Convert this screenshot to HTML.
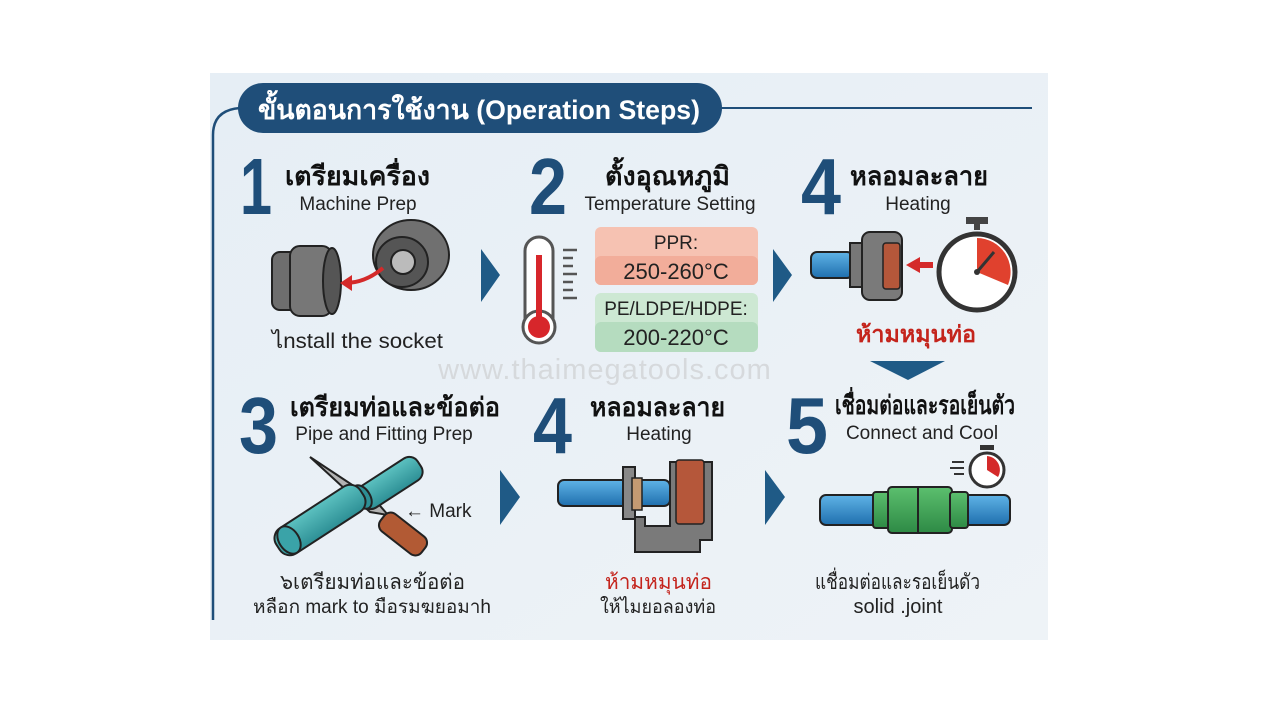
<!DOCTYPE html>
<html><head><meta charset="utf-8"><style>
html,body{margin:0;padding:0;background:#fff;width:1280px;height:720px;overflow:hidden}
svg{display:block}
text{font-family:"Liberation Sans","DejaVu Sans",sans-serif}
.n{font-weight:bold;fill:#1f4e79;font-size:80px}
.t{font-weight:bold;fill:#111;font-size:26px}
.s{fill:#222;font-size:19px}
.b{fill:#222;font-size:21px}
</style></head><body>
<svg width="1280" height="720" viewBox="0 0 1280 720">
<defs>
<linearGradient id="bg" x1="0" y1="0" x2="1" y2="1"><stop offset="0" stop-color="#e6eef5"/><stop offset="1" stop-color="#eef3f7"/></linearGradient>
<linearGradient id="pipe" x1="0" y1="0" x2="0" y2="1"><stop offset="0" stop-color="#5fb3e6"/><stop offset="1" stop-color="#1f6fae"/></linearGradient>
<linearGradient id="grn" x1="0" y1="0" x2="0" y2="1"><stop offset="0" stop-color="#5cbf6e"/><stop offset="1" stop-color="#2e8a45"/></linearGradient>
<linearGradient id="teal" x1="0" y1="0" x2="0" y2="1"><stop offset="0" stop-color="#5cc1c0"/><stop offset="1" stop-color="#2d8f95"/></linearGradient>
</defs>
<rect x="210" y="73" width="838" height="567" fill="url(#bg)"/>
<path d="M213 620 V135 Q213 110 240 108" fill="none" stroke="#1f4e79" stroke-width="2.5"/>
<line x1="715" y1="108" x2="1032" y2="108" stroke="#1f4e79" stroke-width="2"/>
<rect x="238" y="83" width="484" height="50" rx="25" fill="#1f4e79"/>
<text x="258" y="119" fill="#fff" font-size="27" font-weight="bold" textLength="442" lengthAdjust="spacingAndGlyphs">ขั้นตอนการใช้งาน (Operation Steps)</text>

<text class="n" x="240" y="214" textLength="32" lengthAdjust="spacingAndGlyphs">1</text>
<text class="n" x="529" y="214" textLength="38" lengthAdjust="spacingAndGlyphs">2</text>
<text class="n" x="801" y="214" textLength="40" lengthAdjust="spacingAndGlyphs">4</text>
<text class="n" x="239" y="453" textLength="39" lengthAdjust="spacingAndGlyphs">3</text>
<text class="n" x="533" y="453" textLength="39" lengthAdjust="spacingAndGlyphs">4</text>
<text class="n" x="786" y="453" textLength="42" lengthAdjust="spacingAndGlyphs">5</text>

<text class="t" x="285" y="185" textLength="145" lengthAdjust="spacingAndGlyphs">เตรียมเครื่อง</text>
<text class="s" x="358" y="210" text-anchor="middle">Machine Prep</text>
<text class="t" x="605" y="185" textLength="125" lengthAdjust="spacingAndGlyphs">ตั้งอุณหภูมิ</text>
<text class="s" x="670" y="210" text-anchor="middle">Temperature Setting</text>
<text class="t" x="850" y="185" textLength="138" lengthAdjust="spacingAndGlyphs">หลอมละลาย</text>
<text class="s" x="918" y="210" text-anchor="middle">Heating</text>
<text class="t" x="290" y="416" textLength="210" lengthAdjust="spacingAndGlyphs">เตรียมท่อและข้อต่อ</text>
<text class="s" x="384" y="440" text-anchor="middle">Pipe and Fitting Prep</text>
<text class="t" x="590" y="416" textLength="135" lengthAdjust="spacingAndGlyphs">หลอมละลาย</text>
<text class="s" x="659" y="440" text-anchor="middle">Heating</text>
<text class="t" x="835" y="414" font-size="24" textLength="180" lengthAdjust="spacingAndGlyphs">เชื่อมต่อและรอเย็นตัว</text>
<text class="s" x="922" y="439" text-anchor="middle">Connect and Cool</text>

<g stroke="#222" stroke-width="2">
<rect x="272" y="252" width="35" height="58" rx="8" fill="#6e6e6e"/>
<rect x="290" y="246" width="42" height="70" rx="10" fill="#777"/>
<ellipse cx="332" cy="281" rx="9" ry="33" fill="#555"/>
<ellipse cx="411" cy="255" rx="38" ry="35" fill="#707070"/>
<ellipse cx="402" cy="262" rx="26" ry="25" fill="#555"/>
<ellipse cx="403" cy="262" rx="12" ry="12" fill="#bbb"/>
</g>
<path d="M383 268 Q365 283 345 283" fill="none" stroke="#d42a2a" stroke-width="4"/>
<polygon points="340,283 352,275 352,291" fill="#d42a2a"/>
<text class="b" x="272" y="348" textLength="171" lengthAdjust="spacingAndGlyphs">ไnstall the socket</text>

<rect x="525" y="237" width="28" height="100" rx="14" fill="#fff" stroke="#555" stroke-width="3"/>
<circle cx="539" cy="327" r="16" fill="#fff" stroke="#555" stroke-width="3"/>
<circle cx="539" cy="327" r="11" fill="#d7262b"/>
<rect x="536" y="255" width="6" height="70" fill="#d7262b"/>
<g stroke="#555" stroke-width="2.5"><line x1="563" y1="250" x2="577" y2="250"/><line x1="563" y1="258" x2="573" y2="258"/><line x1="563" y1="266" x2="573" y2="266"/><line x1="563" y1="274" x2="577" y2="274"/><line x1="563" y1="282" x2="573" y2="282"/><line x1="563" y1="290" x2="573" y2="290"/><line x1="563" y1="298" x2="577" y2="298"/></g>
<rect x="595" y="227" width="163" height="58" rx="6" fill="#f6c2b2"/>
<rect x="595" y="256" width="163" height="29" rx="6" fill="#f2ad9a"/>
<text x="676" y="249" text-anchor="middle" font-size="19" fill="#222">PPR:</text>
<text x="676" y="279" text-anchor="middle" font-size="22" fill="#222">250-260°C</text>
<rect x="595" y="293" width="163" height="59" rx="6" fill="#cde8d3"/>
<rect x="595" y="322" width="163" height="30" rx="6" fill="#b5dcbf"/>
<text x="676" y="315" text-anchor="middle" font-size="19" fill="#222">PE/LDPE/HDPE:</text>
<text x="676" y="345" text-anchor="middle" font-size="22" fill="#222">200-220°C</text>

<g fill="#1f5a86">
<polygon points="481,249 500,275 481,302"/>
<polygon points="773,249 792,275 773,302"/>
<polygon points="500,470 520,497 500,525"/>
<polygon points="765,470 785,497 765,525"/>
<polygon points="870,361 945,361 908,380"/>
</g>

<rect x="811" y="252" width="42" height="26" rx="6" fill="url(#pipe)" stroke="#222" stroke-width="2"/>
<rect x="850" y="243" width="14" height="44" fill="#777" stroke="#222" stroke-width="2"/>
<rect x="862" y="232" width="40" height="68" rx="8" fill="#7a7a7a" stroke="#222" stroke-width="2"/>
<rect x="883" y="243" width="17" height="46" rx="3" fill="#b5573a" stroke="#222" stroke-width="1.5"/>
<polygon points="906,265 920,257 920,262 933,262 933,268 920,268 920,273" fill="#d42a2a"/>
<rect x="966" y="217" width="22" height="7" fill="#444"/>
<rect x="974" y="222" width="6" height="8" fill="#444"/>
<circle cx="977" cy="272" r="38" fill="#fff" stroke="#333" stroke-width="5"/>
<path d="M977 272 L977 238 A34 34 0 0 1 1008 285 Z" fill="#e0412e"/>
<line x1="977" y1="272" x2="994" y2="252" stroke="#333" stroke-width="3"/>
<circle cx="977" cy="272" r="3" fill="#333"/>
<text x="856" y="342" font-size="23" font-weight="bold" fill="#c4241c" textLength="120" lengthAdjust="spacingAndGlyphs">ห้ามหมุนท่อ</text>

<text x="605" y="379" text-anchor="middle" font-size="29" fill="#d6d9dc" letter-spacing="1">www.thaimegatools.com</text>

<g stroke="#222" stroke-width="2">
<path d="M310 457 L375 500 L388 515 L370 512 Z" fill="#b3b3b3"/>
<rect x="355" y="470" width="70" height="26" rx="10" fill="url(#teal)" transform="rotate(-33 390 483)"/>
<ellipse cx="362" cy="497" rx="8" ry="13" fill="#2d8f95" transform="rotate(-33 362 497)"/>
<rect x="270" y="505" width="100" height="30" rx="12" fill="url(#teal)" transform="rotate(-33 320 520)"/>
<ellipse cx="289" cy="540" rx="10" ry="15" fill="#3aa3a8" transform="rotate(-33 289 540)"/>
<rect x="377" y="523" width="52" height="22" rx="8" fill="#b25a34" transform="rotate(38 403 534)"/>
</g>
<text x="405" y="517" font-size="19" fill="#222">← Mark</text>

<rect x="558" y="480" width="112" height="26" rx="6" fill="url(#pipe)" stroke="#222" stroke-width="2"/>
<rect x="623" y="467" width="12" height="52" fill="#888" stroke="#222" stroke-width="2"/>
<rect x="632" y="478" width="10" height="32" fill="#c49a72" stroke="#222" stroke-width="1.5"/>
<path d="M635 517 V552 H700 V540 H712 V462 H670 V526 H645 V517 Z" fill="#7a7a7a" stroke="#222" stroke-width="2"/>
<rect x="676" y="460" width="28" height="64" rx="3" fill="#b5573a" stroke="#222" stroke-width="1.5"/>

<rect x="820" y="495" width="190" height="30" rx="6" fill="url(#pipe)" stroke="#222" stroke-width="2"/>
<rect x="873" y="492" width="20" height="36" rx="3" fill="url(#grn)" stroke="#222" stroke-width="2"/>
<rect x="888" y="487" width="64" height="46" rx="4" fill="url(#grn)" stroke="#222" stroke-width="2"/>
<line x1="918" y1="487" x2="918" y2="533" stroke="#222" stroke-width="2"/>
<rect x="950" y="492" width="18" height="36" rx="3" fill="url(#grn)" stroke="#222" stroke-width="2"/>
<rect x="980" y="445" width="14" height="5" fill="#333"/>
<circle cx="987" cy="470" r="17" fill="#fff" stroke="#333" stroke-width="3"/>
<path d="M987 470 L987 456 A14 14 0 0 1 998 477 Z" fill="#d42a2a"/>
<g stroke="#333" stroke-width="2"><line x1="952" y1="462" x2="964" y2="462"/><line x1="950" y1="468" x2="964" y2="468"/><line x1="954" y1="474" x2="964" y2="474"/></g>

<text class="b" x="280" y="589" textLength="185" lengthAdjust="spacingAndGlyphs">๖เตรียมท่อและข้อต่อ</text>
<text x="253" y="613" font-size="19" fill="#222" textLength="238" lengthAdjust="spacingAndGlyphs">หลือก mark to มือรมฆยอมาh</text>
<text x="605" y="589" font-size="21" fill="#c4241c" textLength="107" lengthAdjust="spacingAndGlyphs">ห้ามหมุนท่อ</text>
<text x="600" y="613" font-size="19" fill="#222" textLength="116" lengthAdjust="spacingAndGlyphs">ให้ไมยอลองท่อ</text>
<text class="b" x="815" y="589" textLength="165" lengthAdjust="spacingAndGlyphs">แชื่อมต่อและรอเย็นดัว</text>
<text x="898" y="613" text-anchor="middle" font-size="20" fill="#222">solid .joint</text>
</svg>
</body></html>
